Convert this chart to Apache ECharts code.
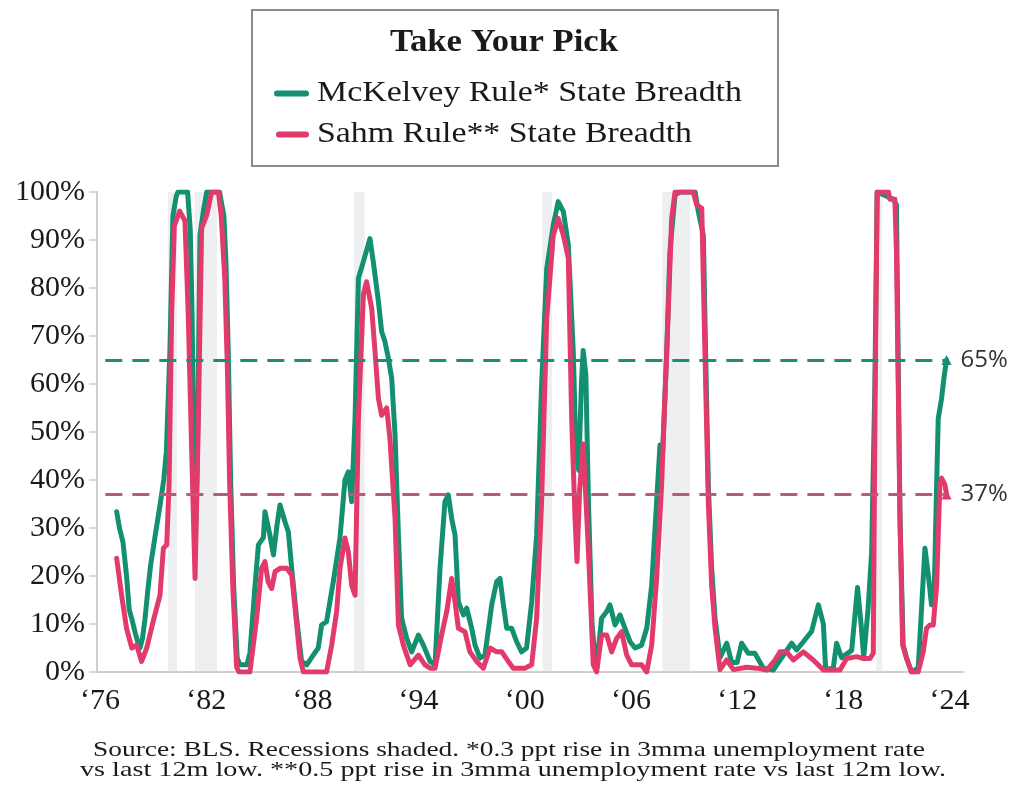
<!DOCTYPE html>
<html>
<head>
<meta charset="utf-8">
<title>Take Your Pick</title>
<script src="https://cdn.jsdelivr.net/npm/echarts@6/dist/echarts.min.js"></script>
<style>
  html, body { margin: 0; padding: 0; background: #ffffff; }
  #chart { width: 1017px; height: 793px; }
</style>
</head>
<body>
<div id="chart"></div>
<script>
// Share of states triggering each rule (percent), dated in fractional years
const mckelveyYears = [
  1976.94,1977.1,1977.3,1977.5,1977.65,1977.8,1978.0,1978.15,1978.26,1978.4,
  1978.54,1978.7,1978.85,1979.1,1979.4,1979.6,1979.75,1979.95,1980.12,1980.3,
  1980.4,1980.95,1981.1,1981.2,1981.37,1981.5,1981.65,1981.84,1982.03,1982.75,
  1983.0,1983.12,1983.25,1983.38,1983.55,1983.75,1983.9,1984.3,1984.47,1984.76,
  1984.95,1985.23,1985.32,1985.6,1985.8,1986.0,1986.17,1986.45,1986.64,1986.83,
  1987.11,1987.39,1987.68,1988.05,1988.33,1988.52,1988.8,1989.18,1989.56,1989.84,
  1990.03,1990.22,1990.41,1990.6,1990.88,1991.25,1991.44,1991.73,1991.91,1992.1,
  1992.29,1992.48,1992.67,1992.86,1993.04,1993.33,1993.61,1993.99,1994.27,1994.65,
  1994.93,1995.21,1995.49,1995.68,1995.87,1996.06,1996.25,1996.53,1996.72,1997.0,
  1997.19,1997.47,1997.75,1998.13,1998.41,1998.6,1998.79,1998.98,1999.26,1999.54,
  1999.82,2000.1,2000.39,2000.67,2000.95,2001.24,2001.61,2001.89,2002.18,2002.46,
  2002.74,2002.9,2003.05,2003.2,2003.3,2003.45,2003.6,2003.8,2003.97,2004.06,
  2004.34,2004.63,2004.81,2005.1,2005.38,2005.66,2005.95,2006.23,2006.6,2006.89,
  2007.17,2007.45,2007.64,2007.79,2008.02,2008.2,2008.49,2008.77,2009.62,2009.8,
  2010.09,2010.18,2010.37,2010.56,2010.75,2011.03,2011.41,2011.69,2012.0,2012.25,
  2012.63,2013.0,2013.48,2014.04,2014.42,2015.08,2015.36,2015.74,2016.21,2016.59,
  2016.87,2017.0,2017.43,2017.62,2017.9,2018.47,2018.8,2019.0,2019.15,2019.4,
  2019.6,2019.78,2019.91,2020.82,2021.0,2021.2,2021.38,2021.57,2021.85,2022.23,
  2022.42,2022.61,2022.8,2022.98,2023.12,2023.27,2023.36,2023.55,2023.68,2023.83
];
const mckelveyValues = [
  33.4,30,27,20,13,11,8,6,5,7,
  11,17,22,28,35,40,46,67,95,99,
  100,100,92,75,25,45,91,96,100,100,
  95,85,66,40,18,3,1.5,1.5,4,18,
  26.5,28,33.4,28.5,24.4,30.6,34.8,31.3,29.2,21.6,
  11.2,2.2,1.5,3.5,5,9.8,10.5,18.8,28,40,
  41.7,35.5,52.8,82,85.5,90.3,85.5,77.2,71,68.8,
  65.4,61.2,49.4,28.5,11.2,7,4.2,7.7,5.6,2.2,
  1.5,21.6,35.5,36.9,32,28.5,14.6,11.9,13.3,9.1,
  5.6,2.9,3.5,14,18.8,19.5,14,9.1,9.1,6.3,
  4.2,5,14.6,28.5,59.8,84,93.1,98,95.9,89,
  66.7,45,42,60,67,62,35,10,3,1,
  11.2,12.6,14,9.8,11.9,9.1,6.3,5,5.6,9.1,
  18,35.5,47.3,46,66.7,87.6,99.4,100,100,96,
  91,73.7,39,21.6,11.2,3,6,2,2,6,
  3.9,3.9,0.8,0.4,2.5,6,4.6,6.3,8.5,14,
  10,0.6,0.8,6,3,4.5,17.6,10,3,13.3,
  25,59.8,100,98.5,97.3,32,5.6,2.9,0,0.8,
  13.3,25.8,20.2,14,14.6,39,52.8,57,61.2,65
];

const sahmYears = [
  1976.94,1977.22,1977.5,1977.8,1978.07,1978.35,1978.64,1979.0,1979.39,1979.58,
  1979.77,1979.9,1980.05,1980.2,1980.5,1980.8,1980.99,1981.18,1981.37,1981.56,
  1981.74,1982.03,1982.31,1982.69,1982.85,1983.05,1983.2,1983.32,1983.5,1983.72,
  1983.85,1984.47,1984.85,1985.13,1985.32,1985.5,1985.7,1985.89,1986.17,1986.55,
  1986.83,1987.02,1987.3,1987.49,1988.8,1989.09,1989.37,1989.56,1989.84,1990.03,
  1990.22,1990.41,1990.6,1990.88,1991.06,1991.35,1991.54,1991.73,1991.91,1992.2,
  1992.38,1992.67,1992.86,1993.14,1993.52,1993.99,1994.36,1994.65,1994.93,1995.3,
  1995.59,1995.87,1996.06,1996.25,1996.62,1996.9,1997.28,1997.66,1998.04,1998.41,
  1998.7,1999.07,1999.35,2000.0,2000.39,2000.67,2000.95,2001.24,2001.61,2001.89,
  2002.18,2002.46,2002.65,2002.84,2002.95,2003.1,2003.3,2003.6,2003.87,2004.06,
  2004.34,2004.63,2004.91,2005.19,2005.47,2005.76,2006.04,2006.6,2006.89,2007.17,
  2007.45,2007.73,2008.02,2008.3,2008.49,2009.52,2009.71,2010.0,2010.18,2010.37,
  2010.56,2010.75,2011.03,2011.41,2011.79,2012.54,2013.1,2013.67,2014.14,2014.42,
  2014.8,2015.17,2015.74,2016.3,2016.87,2017.81,2018.19,2018.75,2019.13,2019.5,
  2019.69,2019.8,2019.91,2020.55,2020.62,2020.91,2021.0,2021.2,2021.35,2021.57,
  2021.85,2022.23,2022.51,2022.7,2022.89,2023.08,2023.27,2023.45,2023.55,2023.74,
  2023.83
];
const sahmValues = [
  23.7,16,9.1,5,5.6,2.2,5,10.5,16,25.8,
  26.5,39,75,93,96,94,74,46,19.5,53,
  92.4,95.2,100,100,95,82,63,40,18,1,
  0,0,11.2,21.6,23,18.8,17.4,20.9,21.6,21.6,
  20.2,13.3,2.9,0,0,5.6,12.6,21.6,27.9,25,
  18,16,52.8,78.6,81.3,75.8,66.7,57,53.5,55,
  48.7,32,9.8,5.6,1.5,3.5,1.5,0.8,0.8,7.7,
  12.6,19.5,14.6,9.1,8.4,4.2,2.2,0.8,5,4.2,
  4.2,2.2,0.8,0.8,1.5,11.2,35.5,73.7,91,94.5,
  91,86.2,52.8,32,23,38,47.5,25,1.5,0,
  7.7,7.7,4.2,7,8.4,3.5,1.5,1.5,0,5.6,
  19.5,39,66.7,94.5,100,100,97.3,96.6,66.7,35.5,
  18,9.1,0.5,2.5,0.5,1,0.8,0.4,2.5,4.2,
  4.2,2.5,4.2,2.5,0.4,0.4,2.8,3.2,2.8,2.8,
  3.9,59.8,100,100,98.5,98.5,87.6,32,5.6,2.9,
  0,0,4.2,9.1,9.8,9.8,18,39,40.4,39,
  37
];

// Recession periods (start, end)
const recessionStarts = [1979.84, 1981.37, 1990.35, 2001.0, 2007.78, 2019.85];
const recessionEnds   = [1980.35, 1982.61, 1990.95, 2001.55, 2009.33, 2020.2];

// Latest readings, drawn as reference lines
const latestMcKelvey = 65;
const latestSahm = 37;

const xTickYears = [1976, 1982, 1988, 1994, 2000, 2006, 2012, 2018, 2024];

const titleText = 'Take Your Pick';
const mckelveyName = 'McKelvey Rule* State Breadth';
const sahmName = 'Sahm Rule** State Breadth';
const footnoteLines = [
  'Source: BLS. Recessions shaded. *0.3 ppt rise in 3mma unemployment rate',
  'vs last 12m low. **0.5 ppt rise in 3mma unemployment rate vs last 12m low.'
];

// ---- styling ----
const GREEN = '#12906f';
const PINK = '#e23a6a';
const GREEN_DASH = '#1f8d73';
const PINK_DASH = '#b95a7c';
const SERIF = '"Liberation Serif", "DejaVu Serif", serif';
const SANS = '"Open Sans", Lato, sans-serif';

// Stretch serif text horizontally so it spans a given width
const measurer = document.createElement('canvas').getContext('2d');
function stretchTo(text, font, width) {
  measurer.font = font;
  return width / measurer.measureText(text).width;
}

function pairs(xs, ys) {
  return xs.map((x, i) => [x, ys[i]]);
}
function withEndMarker(points, color) {
  const out = points.slice(0, -1);
  out.push({
    value: points[points.length - 1],
    symbol: 'triangle',
    symbolSize: 10,
    itemStyle: { color: color }
  });
  return out;
}

const mckPoints = pairs(mckelveyYears, mckelveyValues);
const sahmPoints = pairs(sahmYears, sahmValues);
const lastYear = mckelveyYears[mckelveyYears.length - 1];

const recessionAreas = recessionStarts.map((s, i) => [
  { xAxis: s, yAxis: 0 },
  { xAxis: recessionEnds[i], yAxis: 100 }
]);

const titleFont = 'bold 31px ' + SERIF;
const legendFont = '30px ' + SERIF;
const footFont = '21px ' + SERIF;

function latestLine(value, color) {
  return [
    {
      coord: [1976.3, value],
      lineStyle: { color: color, width: 3, type: [17, 10] },
      label: {
        show: true,
        position: 'end',
        distance: 14,
        formatter: value + '%',
        fontFamily: SANS,
        fontSize: 24,
        color: '#333333'
      }
    },
    { coord: [lastYear, value] }
  ];
}

const chart = echarts.init(document.getElementById('chart'), null, { renderer: 'canvas' });

chart.setOption({
  animation: false,
  backgroundColor: '#ffffff',
  grid: { left: 97, top: 192, width: 866, height: 480, containLabel: false },
  xAxis: {
    type: 'value',
    min: 1975.83,
    max: 2024.76,
    axisLine: { show: true, lineStyle: { color: '#cfcfcf', width: 2 } },
    axisTick: { show: false },
    splitLine: { show: false },
    axisLabel: {
      customValues: xTickYears,
      margin: 14,
      color: '#1a1a1a',
      fontFamily: SERIF,
      fontSize: 30,
      formatter: v => '\u2018' + String(Math.round(v) % 100).padStart(2, '0')
    }
  },
  yAxis: {
    type: 'value',
    min: 0,
    max: 100,
    interval: 10,
    axisLine: { show: true, lineStyle: { color: '#cfcfcf', width: 2 } },
    axisTick: { show: true, length: 8, lineStyle: { color: '#cfcfcf', width: 1.5 } },
    splitLine: { show: false },
    axisLabel: {
      margin: 12,
      color: '#1a1a1a',
      fontFamily: SERIF,
      fontSize: 30,
      padding: [0, 0, 10, 0],
      formatter: '{value}%'
    }
  },
  series: [
    {
      name: 'Recessions',
      type: 'line',
      data: [],
      silent: true,
      z: 1,
      markArea: {
        silent: true,
        itemStyle: { color: 'rgba(210, 212, 216, 0.38)' },
        data: recessionAreas
      }
    },
    {
      name: mckelveyName,
      type: 'line',
      data: withEndMarker(mckPoints, GREEN),
      symbol: 'none',
      showSymbol: true,
      z: 3,
      lineStyle: { color: GREEN, width: 5, join: 'round', cap: 'round' },
      itemStyle: { color: GREEN }
    },
    {
      name: sahmName,
      type: 'line',
      data: withEndMarker(sahmPoints, PINK),
      symbol: 'none',
      showSymbol: true,
      z: 4,
      lineStyle: { color: PINK, width: 5, join: 'round', cap: 'round' },
      itemStyle: { color: PINK }
    },
    {
      name: 'Latest',
      type: 'line',
      data: [],
      silent: true,
      z: 6,
      markLine: {
        silent: true,
        symbol: ['none', 'none'],
        label: { show: true, fontFamily: SANS, fontSize: 24, color: '#333333' },
        data: [
          latestLine(latestMcKelvey, GREEN_DASH),
          latestLine(latestSahm, PINK_DASH)
        ]
      }
    }
  ],
  graphic: [
    {
      type: 'rect',
      shape: { x: 252, y: 10, width: 526, height: 156 },
      style: { fill: '#ffffff', stroke: '#8c8c8c', lineWidth: 2 },
      z: 10
    },
    {
      type: 'text',
      x: 504, y: 42.5,
      scaleX: stretchTo(titleText, titleFont, 228),
      z: 11,
      style: { text: titleText, font: titleFont, fill: '#1a1a1a',
               align: 'center', verticalAlign: 'middle', textAlign: 'center', textVerticalAlign: 'middle' }
    },
    {
      type: 'line',
      shape: { x1: 277, y1: 93.5, x2: 306, y2: 93.5 },
      style: { stroke: GREEN, lineWidth: 6, lineCap: 'round' },
      z: 11
    },
    {
      type: 'text',
      x: 317, y: 93,
      scaleX: stretchTo(mckelveyName, legendFont, 425),
      z: 11,
      style: { text: mckelveyName, font: legendFont, fill: '#1a1a1a',
               align: 'left', verticalAlign: 'middle', textAlign: 'left', textVerticalAlign: 'middle' }
    },
    {
      type: 'line',
      shape: { x1: 279, y1: 134.5, x2: 306, y2: 134.5 },
      style: { stroke: PINK, lineWidth: 6, lineCap: 'round' },
      z: 11
    },
    {
      type: 'text',
      x: 317, y: 134,
      scaleX: stretchTo(sahmName, legendFont, 375),
      z: 11,
      style: { text: sahmName, font: legendFont, fill: '#1a1a1a',
               align: 'left', verticalAlign: 'middle', textAlign: 'left', textVerticalAlign: 'middle' }
    },
    {
      type: 'text',
      x: 93, y: 750.5,
      scaleX: stretchTo(footnoteLines[0], footFont, 832),
      z: 11,
      style: { text: footnoteLines[0], font: footFont, fill: '#1a1a1a',
               align: 'left', verticalAlign: 'middle', textAlign: 'left', textVerticalAlign: 'middle' }
    },
    {
      type: 'text',
      x: 80, y: 770.5,
      scaleX: stretchTo(footnoteLines[1], footFont, 866),
      z: 11,
      style: { text: footnoteLines[1], font: footFont, fill: '#1a1a1a',
               align: 'left', verticalAlign: 'middle', textAlign: 'left', textVerticalAlign: 'middle' }
    }
  ]
});
</script>
</body>
</html>
